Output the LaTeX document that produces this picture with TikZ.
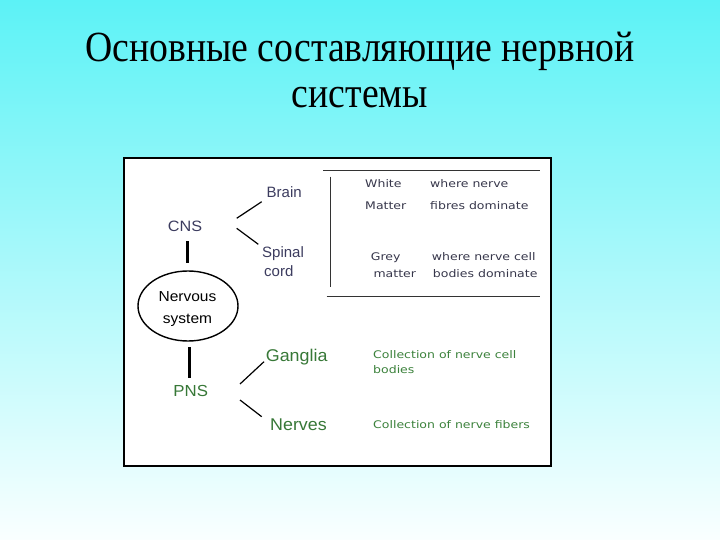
\documentclass[tikz,border=0pt]{standalone}
\usepackage{fontspec}
\setmainfont{Liberation Serif}
\newfontfamily\arialf{Liberation Sans}
\newfontfamily\verdf{DejaVu Sans}
\usetikzlibrary{shapes.geometric}
\definecolor{bgtop}{RGB}{92,242,246}
\definecolor{bgbot}{RGB}{250,255,255}
\definecolor{navy}{RGB}{60,60,95}
\definecolor{grn}{RGB}{55,120,55}
\definecolor{lgrn}{RGB}{60,130,60}
\definecolor{dgrey}{RGB}{55,55,75}
\begin{document}
\begin{tikzpicture}[x=1pt,y=-1pt,
  ttl/.style={font=\fontsize{43}{48}\selectfont, inner sep=0pt, anchor=base, xscale=0.877},
  lbl/.style={font=\arialf\fontsize{15}{16}\selectfont, text=navy, inner sep=0pt, anchor=base west},
  glbl/.style={font=\arialf\fontsize{17}{18}\selectfont, text=grn, inner sep=0pt, anchor=base west, xscale=1.05},
  small/.style={font=\verdf\fontsize{10.5}{12}\selectfont, text=dgrey, inner sep=0pt, anchor=base west, xscale=1.19},
  gsmall/.style={font=\verdf\fontsize{10.5}{12}\selectfont, text=lgrn, inner sep=0pt, anchor=base west, xscale=1.19},
  branch/.style={draw=black, line width=1.2pt},
  stem/.style={draw=black, line width=3pt},
  rule/.style={draw=black!80, line width=0.8pt}]
\useasboundingbox (0,0) rectangle (720,540);
\shade[top color=bgtop, bottom color=bgbot, shading angle=0] (0,0) rectangle (720,540);
\node[ttl] (title1) at (360,62) {Основные составляющие нервной};
\node[ttl] (title2) at (360,108) {системы};
\draw[fill=white, line width=1.2pt] (124,158) rectangle (551,466);
% left side
\node[lbl] (brain) at (266.5,197) {Brain};
\node[lbl, anchor=base, xscale=1.08] (cns) at (185,232) {CNS};
\node[lbl] (spinal) at (262,257.7) {Spinal};
\node[lbl] (cord) at (264,276.7) {cord};
\node[draw, ellipse, line width=1.4pt, minimum width=100pt, minimum height=70pt, inner sep=0pt] (ns) at (188,306) {};
\node[font=\arialf\fontsize{14.5}{16}\selectfont, inner sep=0pt, anchor=base, xscale=1.07] (nstext1) at (187.5,301.7) {Nervous};
\node[font=\arialf\fontsize{14.5}{16}\selectfont, inner sep=0pt, anchor=base, xscale=1.07] (nstext2) at (187.5,323) {system};
\node[glbl, anchor=base, font=\arialf\fontsize{16}{18}\selectfont, xscale=1] (pns) at (190.7,396.7) {PNS};
\node[glbl] (gang) at (265.7,361) {Ganglia};
\node[glbl] (nerves) at (270,430) {Nerves};
\coordinate (b1) at (236.7,218.3); \coordinate (b2) at (261.7,201.7);
\coordinate (s1) at (236.7,228.3); \coordinate (s2) at (258.3,244.3);
\coordinate (g1) at (240,384); \coordinate (g2) at (264,361.7);
\coordinate (n1) at (240,400); \coordinate (n2) at (261.7,416.7);
\draw[branch] (b1) -- (b2);
\draw[branch] (s1) -- (s2);
\draw[branch] (g1) -- (g2);
\draw[branch] (n1) -- (n2);
\coordinate (c1a) at (187,241); \coordinate (c1b) at (187,263);
\coordinate (p1a) at (189.5,347); \coordinate (p1b) at (189.5,378);
\draw[stem] (c1a) -- (c1b);
\draw[stem] (p1a) -- (p1b);
% right table
\coordinate (t1) at (323,170); \coordinate (t2) at (540,170);
\coordinate (v1) at (330.7,176.7); \coordinate (v2) at (330.7,286.7);
\coordinate (u1) at (326.7,296.5); \coordinate (u2) at (540,296.5);
\draw[rule] (t1) -- (t2);
\draw[rule] (v1) -- (v2);
\draw[rule] (u1) -- (u2);
\node[small] (white) at (365,188) {White};
\node[small] (matter1) at (365,210) {Matter};
\node[small] (wn) at (430,188) {where nerve};
\node[small] (fd) at (430,210) {fibres dominate};
\node[small] (grey) at (370.7,260.7) {Grey};
\node[small] (matter2) at (373.3,277.3) {matter};
\node[small] (wnc) at (431.7,260.7) {where nerve cell};
\node[small] (bd) at (432.7,277.3) {bodies dominate};
\node[gsmall] (c1) at (373,358.3) {Collection of nerve cell};
\node[gsmall] (c2) at (373,373.3) {bodies};
\node[gsmall] (c3) at (373,428.3) {Collection of nerve fibers};
\end{tikzpicture}
\end{document}
